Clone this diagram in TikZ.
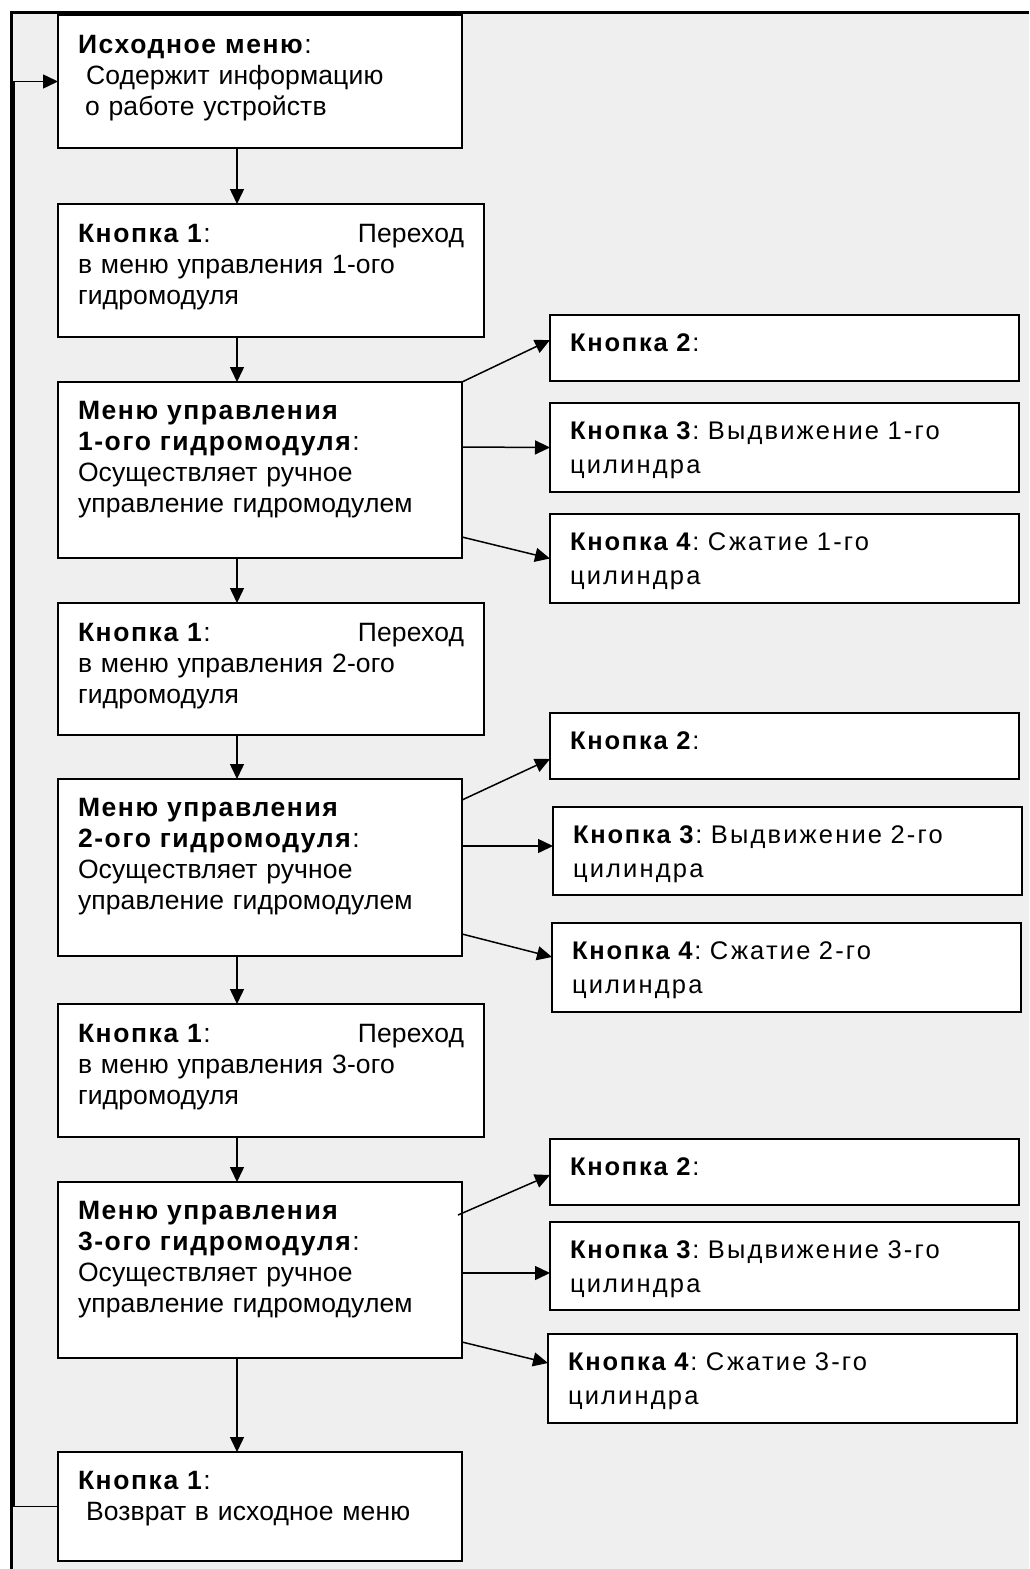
\documentclass[tikz,border=0pt]{standalone}
\usepackage{fontspec}
\setmainfont{Liberation Sans}
\newfontfamily\leftfont[LetterSpace=0.5, BoldFeatures={LetterSpace=6}]{Liberation Sans}
\newfontfamily\rightfont[LetterSpace=8.5, BoldFeatures={LetterSpace=7}]{Liberation Sans}
\frenchspacing
\usetikzlibrary{arrows.meta}
\definecolor{panel}{HTML}{EFEFEF}

\begin{document}
\begin{tikzpicture}[x=1pt, y=-1pt]

\tikzset{menubox/.style = {draw, fill=white, line width=2.5pt, anchor=north west, outer sep=0pt, inner xsep=20pt, inner ysep=0pt, align=left, text width=364pt, text height=37pt, font=\leftfont\fontsize{26.5}{31}\selectfont}}
\tikzset{jumpbox/.style = {menubox, text width=386pt, text height=38pt}}
\tikzset{keybox/.style = {menubox, text width=429pt, text height=36pt, font=\rightfont\fontsize{25.5}{34}\selectfont}}
\tikzset{link/.style = {-{Triangle[length=15pt, width=14pt]}, line width=1.5pt}}

% frame
\useasboundingbox (0,0) rectangle (1029,1569);
\fill[panel] (11,12) rectangle (1029,1569);
\draw[line width=3pt] (11,1569) -- (11,12.5) -- (1029,12.5);
\coordinate (spine) at (237,0);

% vertices
\node[menubox, text height=38pt, text depth=95pt] (m0) at (58,15) {\textbf{Исходное меню}:\\\hspace*{8pt}Содержит информацию\\\hspace*{7pt}о работе устройств};
\node[jumpbox, text depth=95pt] (k1a) at (58,204) {\textbf{Кнопка 1}:\hfill Переход\\в меню управления 1-ого\\гидромодуля};
\node[menubox, text depth=139pt] (m1) at (58,382) {\textbf{Меню управления}\\\textbf{1-ого гидромодуля}:\\Осуществляет ручное\\управление гидромодулем};
\node[jumpbox, text depth=94pt] (k1b) at (58,603) {\textbf{Кнопка 1}:\hfill Переход\\в меню управления 2-ого\\гидромодуля};
\node[menubox, text depth=140pt] (m2) at (58,779) {\textbf{Меню управления}\\\textbf{2-ого гидромодуля}:\\Осуществляет ручное\\управление гидромодулем};
\node[jumpbox, text depth=95pt] (k1c) at (58,1004) {\textbf{Кнопка 1}:\hfill Переход\\в меню управления 3-ого\\гидромодуля};
\node[menubox, text depth=139pt] (m3) at (58,1182) {\textbf{Меню управления}\\\textbf{3-ого гидромодуля}:\\Осуществляет ручное\\управление гидромодулем};
\node[menubox, text depth=72pt] (k1d) at (58,1452) {\textbf{Кнопка 1}:\\\hspace*{8pt}Возврат в исходное меню};

\node[keybox, text depth=30pt] (b12) at (550,315) {\textbf{Кнопка 2}:};
\node[keybox, text depth=53pt] (b13) at (550,403) {\textbf{Кнопка 3}: Выдвижение 1-го\\цилиндра};
\node[keybox, text depth=53pt] (b14) at (550,514) {\textbf{Кнопка 4}: Сжатие 1-го\\цилиндра};
\node[keybox, text depth=30pt] (b22) at (550,713) {\textbf{Кнопка 2}:};
\node[keybox, text depth=52pt] (b23) at (553,807) {\textbf{Кнопка 3}: Выдвижение 2-го\\цилиндра};
\node[keybox, text depth=53pt] (b24) at (552,923) {\textbf{Кнопка 4}: Сжатие 2-го\\цилиндра};
\node[keybox, text depth=30pt] (b32) at (550,1139) {\textbf{Кнопка 2}:};
\node[keybox, text depth=52pt] (b33) at (550,1222) {\textbf{Кнопка 3}: Выдвижение 3-го\\цилиндра};
\node[keybox, text depth=53pt] (b34) at (548,1334) {\textbf{Кнопка 4}: Сжатие 3-го\\цилиндра};

%edges
\draw[link] (m0.south -| spine) -- (k1a.north -| spine);
\draw[link] (k1a.south -| spine) -- (m1.north -| spine);
\draw[link] (m1.south -| spine) -- (k1b.north -| spine);
\draw[link] (k1b.south -| spine) -- (m2.north -| spine);
\draw[link] (m2.south -| spine) -- (k1c.north -| spine);
\draw[link] (k1c.south -| spine) -- (m3.north -| spine);
\draw[link] (m3.south -| spine) -- (k1d.north -| spine);
\draw[link] (k1d.west) -- ++(-44,0) |- (m0.west);

\draw[link] (m1.north east) -- ([yshift=8pt]b12.west);
\draw[link] ([yshift=23pt]m1.east) -- (b13.west);
\draw[link] ([yshift=-67pt]m1.east) -- (b14.west);
\draw[link] ([yshift=67.5pt]m2.east) -- ([yshift=-13pt]b22.west);
\draw[link] ([yshift=21.5pt]m2.east) -- ([yshift=5pt]b23.west);
\draw[link] ([yshift=-66.5pt]m2.east) -- ([yshift=10.5pt]b24.west);
\draw[link] ([xshift=-4pt, yshift=55pt]m3.east) -- ([yshift=-3pt]b32.west);
\draw[link] ([yshift=-3pt]m3.east) -- ([yshift=-7pt]b33.west);
\draw[link] ([yshift=-72pt]m3.east) -- ([yshift=15.5pt]b34.west);

\end{tikzpicture}
\end{document}
